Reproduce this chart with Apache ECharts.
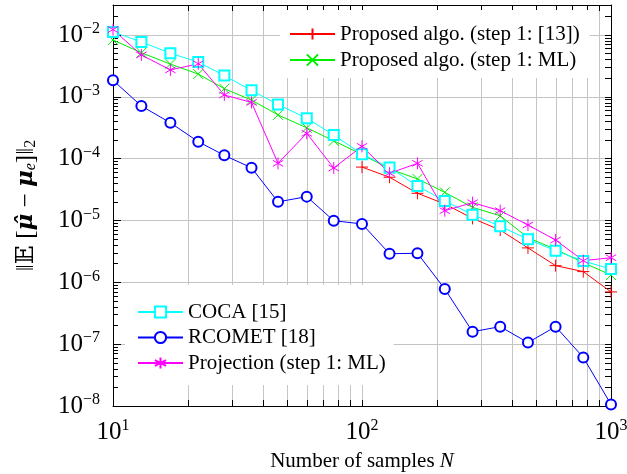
<!DOCTYPE html>
<html><head><meta charset="utf-8">
<script src="https://cdn.jsdelivr.net/npm/echarts@6/dist/echarts.min.js"></script>
<style>html,body{margin:0;padding:0;background:#fff}#c{width:627px;height:474px}</style>
</head><body><div id="c"></div>
<script>
const sampleCounts = [10, 13, 17, 22, 28, 36, 46, 60, 77, 100, 129, 167, 215, 278, 359, 464, 599, 774, 1000];
const proposed13 = [null, null, null, null, null, null, null, null, null, 7.3e-5, 5.0e-5, 2.75e-5, 1.85e-5, 1.08e-5, 7.0e-6, 3.6e-6, 1.86e-6, 1.49e-6, 7.0e-7];
const proposedML = [8.3e-3, 5.15e-3, 3.38e-3, 2.33e-3, 1.35e-3, 8.85e-4, 5.1e-4, 3.15e-4, 1.94e-4, 1.17e-4, 6.8e-5, 4.7e-5, 2.85e-5, 1.63e-5, 1.19e-5, 5.26e-6, 3.42e-6, 2.08e-6, 1.31e-6];
const coca = [1.12e-2, 7.7e-3, 5.06e-3, 3.65e-3, 2.2e-3, 1.27e-3, 7.5e-4, 4.5e-4, 2.41e-4, 1.18e-4, 7.2e-5, 3.6e-5, 2.07e-5, 1.24e-5, 8.1e-6, 4.96e-6, 3.25e-6, 2.21e-6, 1.64e-6];
const rcomet = [1.85e-3, 7.1e-4, 3.8e-4, 1.88e-4, 1.13e-4, 7.1e-5, 2.0e-5, 2.43e-5, 9.9e-6, 8.8e-6, 2.9e-6, 2.95e-6, 7.8e-7, 1.59e-7, 1.92e-7, 1.06e-7, 1.92e-7, 6.1e-8, 1.06e-8];
const projectionML = [1.22e-2, 4.75e-3, 2.72e-3, 3.42e-3, 1.07e-3, 8.1e-4, 8.4e-5, 2.57e-4, 7.05e-5, 1.58e-4, 5.8e-5, 8.4e-5, 1.44e-5, 1.94e-5, 1.44e-5, 8.45e-6, 4.83e-6, 2.24e-6, 2.5e-6];

const seriesNames = ['Proposed algo. (step 1: [13])', 'Proposed algo. (step 1: ML)', 'COCA [15]', 'RCOMET [18]', 'Projection (step 1: ML)'];
const xLabelTicks = [10, 100, 1000];
const xAllTicks = [10, 20, 30, 40, 50, 60, 70, 80, 90, 100, 200, 300, 400, 500, 600, 700, 800, 900, 1000];
const yLabelTicks = [1e-8, 1e-7, 1e-6, 1e-5, 1e-4, 1e-3, 1e-2];
const yMinorTicks = [];
[-8, -7, -6, -5, -4, -3, -2].forEach(function (e) {
  for (let m = 2; m <= 9; m++) yMinorTicks.push(+(m + 'e' + e));
});
const yAllTicks = yLabelTicks.concat(yMinorTicks);

const FONT = '"Liberation Serif", "DejaVu Serif", serif';
const GRID = '#c4c4c4';

function pts(vals) {
  const out = [];
  sampleCounts.forEach(function (n, i) { if (vals[i] != null) out.push([n, vals[i]]); });
  return out;
}
function exp10(v) { return Math.round(Math.log10(v)); }

const plusSym = 'path://M5,0L5,10M0,5L10,5';
const crossSym = 'path://M0,0L10,10M10,0L0,10';
const starSym = 'path://M5,0L5,10M0.67,2.5L9.33,7.5M0.67,7.5L9.33,2.5';

function lineSeries(name, vals, color, symbol, size) {
  return {
    name: name, type: 'line', data: pts(vals),
    symbol: symbol, symbolSize: size, symbolKeepAspect: true,
    showAllSymbol: true,
    lineStyle: { color: color, width: 1 },
    itemStyle: { color: color, borderColor: color, borderWidth: 1 },
    emphasis: { disabled: true },
    animation: false
  };
}

const tickRich = {
  b: { fontFamily: FONT, fontSize: 25, color: '#000', lineHeight: 28 },
  s: { fontFamily: FONT, fontSize: 16, color: '#000', verticalAlign: 'top', lineHeight: 15 }
};

const chart = echarts.init(document.getElementById('c'), null, { renderer: 'canvas' });
chart.setOption({
  backgroundColor: '#fff',
  animation: false,
  grid: { left: 113, right: 16, top: 5, bottom: 68, containLabel: false, outerBoundsMode: 'none' },
  xAxis: [{
    type: 'log', min: 10, max: 1000, position: 'bottom',
    axisLine: { show: true, lineStyle: { color: '#000', width: 1 } },
    axisTick: { show: true, inside: true, length: 6, customValues: xAllTicks, lineStyle: { color: '#000' } },
    axisLabel: {
      customValues: xLabelTicks, margin: 12,
      formatter: function (v) { return '{b|10}{s|' + exp10(v) + '}'; },
      rich: tickRich
    },
    splitLine: { show: true, lineStyle: { color: GRID, width: 1 } },
    name: '{t|Number of samples }{i|N}', nameLocation: 'middle', nameGap: 45,
    nameTextStyle: {
      rich: {
        t: { fontFamily: FONT, fontSize: 21, color: '#000' },
        i: { fontFamily: FONT, fontSize: 21, color: '#000', fontStyle: 'italic' }
      }
    }
  }, {
    type: 'log', min: 10, max: 1000, position: 'top',
    axisLine: { show: true, lineStyle: { color: '#000', width: 1 } },
    axisTick: { show: true, inside: true, length: 6, customValues: xAllTicks, lineStyle: { color: '#000' } },
    axisLabel: { show: false },
    splitLine: { show: false }
  }],
  yAxis: [{
    type: 'log', min: 1e-8, max: 0.0305, position: 'left',
    axisLine: { show: true, lineStyle: { color: '#000', width: 1 } },
    axisTick: { show: true, inside: true, length: 8, customValues: yLabelTicks, lineStyle: { color: '#000' } },
    axisLabel: {
      customValues: yLabelTicks, margin: 13,
      formatter: function (v) { return '{b|10}{s|\u2212' + Math.abs(exp10(v)) + '}'; },
      rich: tickRich
    },
    splitLine: { show: true, lineStyle: { color: GRID, width: 1 } },
    name: '{n|\u2016\uD835\uDD3C }{n|[}{m|\u03BC\u0302}{n| \u2212 }{m|\u03BC}{sub|e}{n|]\u2016}{sub2|2}',
    nameLocation: 'middle', nameRotate: 90, nameGap: 74,
    nameTextStyle: {
      rich: {
        n: { fontFamily: FONT, fontSize: 25, color: '#000' },
        m: { fontFamily: '"DejaVu Serif", serif', fontSize: 23, color: '#000', fontStyle: 'italic', fontWeight: 'bold' },
        sub: { fontFamily: FONT, fontSize: 16, color: '#000', fontStyle: 'italic', verticalAlign: 'bottom', lineHeight: 16 },
        sub2: { fontFamily: FONT, fontSize: 16, color: '#000', verticalAlign: 'bottom', lineHeight: 16 }
      }
    }
  }, {
    type: 'log', min: 1e-8, max: 0.0305, position: 'left',
    axisLine: { show: false },
    axisTick: { show: true, inside: true, length: 5, customValues: yMinorTicks, lineStyle: { color: '#000' } },
    axisLabel: { show: false },
    splitLine: { show: false }
  }, {
    type: 'log', min: 1e-8, max: 0.0305, position: 'right',
    axisLine: { show: true, lineStyle: { color: '#000', width: 1 } },
    axisTick: { show: true, inside: true, length: 6, customValues: yAllTicks, lineStyle: { color: '#000' } },
    axisLabel: { show: false },
    splitLine: { show: false }
  }],
  legend: [{
    data: [seriesNames[0], seriesNames[1]],
    orient: 'vertical', left: 280, top: 10,
    padding: [12, 10, 6, 9], itemGap: 2,
    itemWidth: 45, itemHeight: 14,
    backgroundColor: '#fff', borderWidth: 0,
    selectedMode: false,
    textStyle: { fontFamily: FONT, fontSize: 21, color: '#000', lineHeight: 24 }
  }, {
    data: [seriesNames[2], seriesNames[3], seriesNames[4]],
    orient: 'vertical', left: 125, top: 285,
    padding: [15, 8, 10, 12], itemGap: 1.5,
    itemWidth: 45, itemHeight: 14,
    backgroundColor: '#fff', borderWidth: 0,
    selectedMode: false,
    textStyle: { fontFamily: FONT, fontSize: 21, color: '#000', lineHeight: 24 }
  }],
  series: [
    lineSeries(seriesNames[0], proposed13, '#ff0000', plusSym, 12),
    lineSeries(seriesNames[1], proposedML, '#00ee00', crossSym, 10),
    lineSeries(seriesNames[2], coca, '#00ffff', 'emptyRect', 10),
    lineSeries(seriesNames[3], rcomet, '#0000ff', 'emptyCircle', 10),
    lineSeries(seriesNames[4], projectionML, '#ff00ff', starSym, 12)
  ]
});
</script></body></html>
